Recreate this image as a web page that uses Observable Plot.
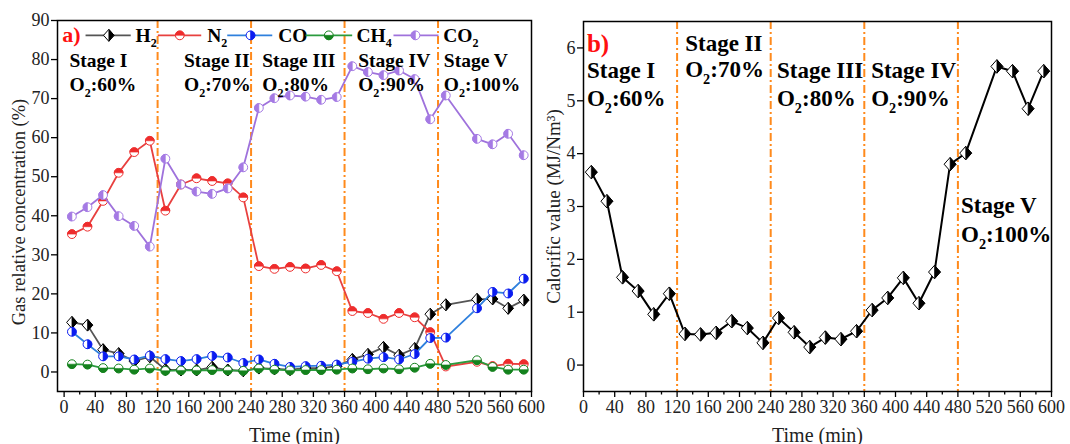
<!DOCTYPE html>
<html><head><meta charset="utf-8">
<script src="https://cdn.jsdelivr.net/npm/d3@7"></script>
<script src="https://cdn.jsdelivr.net/npm/@observablehq/plot@0.6"></script>
<style>
html,body{margin:0;padding:0;background:#fff;}
#wrap{display:flex;width:1070px;height:444px;overflow:hidden;background:#fff;}
#wrap svg{overflow:visible;}
</style></head><body><div id="wrap"></div>
<script>
// ---------------- data ----------------
const times = [10,30,50,70,90,110,130,150,170,190,210,230,250,270,290,310,330,350,370,390,410,430,450,470,490,530,550,570,590];
const h2  = [12.7,12.0,5.7,4.7,2.8,3.9,0.6,0.5,0.5,1.2,0.5,0.3,1.0,0.8,0.6,1.0,1.0,1.5,3.2,4.5,6.3,4.3,6.0,14.8,17.2,18.6,18.7,16.3,18.4];
const n2  = [35.3,37.2,43.8,51.0,56.3,59.2,41.3,48.0,49.6,48.9,48.3,44.7,27.1,26.4,26.9,26.5,27.4,25.8,15.6,15.1,13.6,15.1,14.0,10.2,1.4,2.6,1.5,2.1,2.0];
const co  = [10.3,7.1,4.0,4.0,3.2,4.2,3.3,2.8,3.3,4.1,3.7,2.3,3.2,2.1,1.3,1.5,1.6,1.9,2.6,3.4,3.8,3.2,4.6,8.7,8.8,16.3,20.5,20.1,23.9];
const ch4 = [2.0,1.9,1.0,0.9,0.6,0.9,0.3,0.4,0.4,0.5,0.4,0.3,0.9,0.6,0.4,0.5,0.5,0.6,0.9,0.7,0.9,0.7,1.1,2.1,1.8,3.0,1.3,0.6,0.6];
const co2 = [39.8,42.2,45.3,39.9,37.4,32.1,54.6,48.0,46.2,45.6,47.0,52.4,67.6,70.1,70.8,70.5,69.7,70.4,78.3,76.8,76.0,77.2,75.0,64.7,70.8,59.7,58.3,61.0,55.5];
const calorific = [3.65,3.10,1.66,1.40,0.96,1.35,0.59,0.58,0.61,0.83,0.70,0.42,0.89,0.62,0.34,0.52,0.49,0.64,1.04,1.27,1.65,1.17,1.76,3.80,4.01,5.65,5.56,4.85,5.56];

const gasNames = ["H₂","N₂","CO","CH₄","CO₂"];
const stageBounds = [120,240,360,480];
const stageNames = ["Stage I","Stage II","Stage III","Stage IV","Stage V"];
const o2Labels = ["O₂:60%","O₂:70%","O₂:80%","O₂:90%","O₂:100%"];
const xTicks = [0,40,80,120,160,200,240,280,320,360,400,440,480,520,560,600];
const xMinor = [20,60,100,140,180,220,260,300,340,380,420,460,500,540,580];
const yTicksA = [0,10,20,30,40,50,60,70,80,90];
const yTicksB = [0,1,2,3,4,5,6];

// ---------------- styles ----------------
const FONT = "'Liberation Serif','Times New Roman',serif";
const ORANGE = "#ff8a1c";
const DASH = "8,3,2,3";

// custom half-filled symbols
const circ = {draw(c, s){const r=Math.sqrt(s/Math.PI); c.moveTo(r,0); c.arc(0,0,r,0,2*Math.PI); c.closePath();}};
const halfArc = (a0,a1) => ({draw(c, s){const r=Math.sqrt(s/Math.PI); c.moveTo(0,0); c.lineTo(r*Math.cos(a0), r*Math.sin(a0)); c.arc(0,0,r,a0,a1); c.closePath();}});
const topHalf = halfArc(Math.PI, 2*Math.PI);
const bottomHalf = halfArc(0, Math.PI);
const rightHalf = halfArc(-Math.PI/2, Math.PI/2);
const leftHalf = halfArc(Math.PI/2, 3*Math.PI/2);
const diamond = {draw(c, s){const r=Math.sqrt(s/Math.PI); const h=r*1.3, w=r*1.15; c.moveTo(0,-h); c.lineTo(w,0); c.lineTo(0,h); c.lineTo(-w,0); c.closePath();}};
const diamondRight = {draw(c, s){const r=Math.sqrt(s/Math.PI); const h=r*1.3, w=r*1.15; c.moveTo(0,-h); c.lineTo(w,0); c.lineTo(0,h); c.closePath();}};

const series = [
  {name: gasNames[0], vals: h2,  line: "#555555", mark: "#000000", full: diamond, half: diamondRight, r: 4.6},
  {name: gasNames[1], vals: n2,  line: "#e8403f", mark: "#ee2c2c", full: circ, half: topHalf, r: 4.4},
  {name: gasNames[2], vals: co,  line: "#2f80dd", mark: "#0a1cf0", full: circ, half: rightHalf, r: 4.4},
  {name: gasNames[3], vals: ch4, line: "#2b9b3e", mark: "#14821d", full: circ, half: bottomHalf, r: 4.4},
  {name: gasNames[4], vals: co2, line: "#9f72dc", mark: "#a57ae4", full: circ, half: leftHalf, r: 4.4}
];

function seriesMarks(data, s, lw){
  return [
    Plot.line(data, {x: "t", y: "v", stroke: s.line, strokeWidth: lw}),
    Plot.dot(data, {x: "t", y: "v", r: s.r, symbol: s.full, fill: "white", stroke: s.mark, strokeWidth: 1}),
    Plot.dot(data, {x: "t", y: "v", r: s.r, symbol: s.half, fill: s.mark, stroke: s.mark, strokeWidth: 0.6})
  ];
}
function axisMarks(yTicks){
  return [
    Plot.axisX(xTicks, {tickSize: 6, tickPadding: 3, tickFormat: d => String(d), label: null, stroke: "#000", strokeWidth: 1.3, fill: "#222", fontSize: 18}),
    Plot.axisX(xMinor, {tickSize: 3.5, tickFormat: () => "", label: null, stroke: "#000", strokeWidth: 1.3}),
    Plot.axisY(yTicks, {tickSize: 6, tickPadding: 2, tickFormat: d => String(d), label: null, stroke: "#000", strokeWidth: 1.3, fill: "#222", fontSize: 18})
  ];
}

// ---------------- left panel ----------------
const leftMarks = [];
leftMarks.push(Plot.ruleX(stageBounds, {stroke: ORANGE, strokeWidth: 2, strokeDasharray: DASH}));
for (const s of series){
  const data = times.map((t,i)=>({t, v: s.vals[i]}));
  leftMarks.push(...seriesMarks(data, s, 1.8));
}
// legend (layout in minutes / value units)
const legendY = 86.2;
const legendLayout = [[27.5,85.5,57.4,91.6],[120.3,176,148.5,183.7],[209.4,267.2,239.3,274.8],[309.9,369.8,339.8,375.3],[422.8,480.6,451,486.6]];
series.forEach((s,i)=>{
  const [x1,x2,xs,xt] = legendLayout[i];
  leftMarks.push(Plot.link([0], {x1: ()=>x1, x2: ()=>x2, y1: ()=>legendY, y2: ()=>legendY, stroke: s.line, strokeWidth: 1.8}));
  leftMarks.push(Plot.dot([0], {x: ()=>xs, y: ()=>legendY, r: s.r, symbol: s.full, fill: "white", stroke: s.mark, strokeWidth: 1}));
  leftMarks.push(Plot.dot([0], {x: ()=>xs, y: ()=>legendY, r: s.r, symbol: s.half, fill: s.mark, stroke: s.mark, strokeWidth: 0.6}));
  leftMarks.push(Plot.text([s.name], {x: ()=>xt, y: ()=>legendY, text: d=>d, textAnchor: "start", lineAnchor: "middle", fontSize: 19.5, fontWeight: "bold", fill: "#000"}));
});
leftMarks.push(Plot.text(["a)"], {x: ()=>-2.4, y: ()=>legendY, text: d=>d, textAnchor: "start", lineAnchor: "middle", fontSize: 22, fontWeight: "bold", fill: "#ff1010"}));
const leftStageT = [6.9, 153.9, 254.3, 377.5, 487.4];
leftMarks.push(Plot.text(stageNames, {x: (d,i)=>leftStageT[i], frameAnchor: "top", dy: 46.5, text: d=>d, textAnchor: "start", lineAnchor: "bottom", fontSize: 19.5, fontWeight: "bold", fill: "#000"}));
leftMarks.push(Plot.text(o2Labels, {x: (d,i)=>leftStageT[i], frameAnchor: "top", dy: 70.5, text: d=>d, textAnchor: "start", lineAnchor: "bottom", fontSize: 19.5, fontWeight: "bold", fill: "#000"}));
leftMarks.push(
  ...axisMarks(yTicksA),
  Plot.text(["Time (min)"], {frameAnchor: "bottom", dy: 50, text: d=>d, lineAnchor: "bottom", fontSize: 20, fill: "#222"}),
  Plot.text(["Gas relative concentration (%)"], {frameAnchor: "left", dx: -38, dy: 6, rotate: -90, text: d=>d, textAnchor: "middle", lineAnchor: "middle", fontSize: 18.5, fill: "#222"}),
  Plot.frame({stroke: "#000", strokeWidth: 1.5})
);

const left = Plot.plot({
  width: 540, height: 444,
  marginLeft: 57, marginRight: 9, marginTop: 20, marginBottom: 53,
  x: {domain: [-8.5, 600]},
  y: {domain: [-5, 90]},
  style: {fontFamily: FONT, fontSize: "18px", color: "#222", background: "transparent", overflow: "visible"},
  marks: leftMarks
});

// ---------------- right panel ----------------
const hs = {line: "#000", mark: "#000", full: diamond, half: diamondRight, r: 5.2};
const calData = times.map((t,i)=>({t, v: calorific[i]}));
const rightStageT = [4.4, 130.4, 248, 368.8, 484];
const rightDy1 = [56.3, 29, 56.3, 56.3, 191.3];
const rightDy2 = [84.7, 55.7, 84.7, 84.7, 220.7];
const rightMarks = [
  Plot.ruleX(stageBounds, {stroke: ORANGE, strokeWidth: 2, strokeDasharray: DASH}),
  ...seriesMarks(calData, hs, 2),
  Plot.text(["b)"], {frameAnchor: "top-left", dx: 3.4, dy: 22.3, text: d=>d, textAnchor: "start", lineAnchor: "middle", fontSize: 25, fontWeight: "bold", fill: "#ff1010"})
];
stageNames.forEach((name, i) => {
  rightMarks.push(Plot.text([name], {x: ()=>rightStageT[i], frameAnchor: "top", dy: rightDy1[i], text: d=>d, textAnchor: "start", lineAnchor: "bottom", fontSize: 23, fontWeight: "bold", fill: "#000"}));
  rightMarks.push(Plot.text([o2Labels[i]], {x: ()=>rightStageT[i], frameAnchor: "top", dy: rightDy2[i], text: d=>d, textAnchor: "start", lineAnchor: "bottom", fontSize: 23, fontWeight: "bold", fill: "#000"}));
});
rightMarks.push(
  ...axisMarks(yTicksB),
  Plot.text(["Time (min)"], {frameAnchor: "bottom", dy: 50, text: d=>d, lineAnchor: "bottom", fontSize: 20, fill: "#222"}),
  Plot.text(["Calorific value (MJ/Nm³)"], {frameAnchor: "left", dx: -30, dy: 0, rotate: -90, text: d=>d, textAnchor: "middle", lineAnchor: "middle", fontSize: 19, fill: "#222"}),
  Plot.frame({stroke: "#000", strokeWidth: 1.5})
);
const right = Plot.plot({
  width: 530, height: 444,
  marginLeft: 43, marginRight: 19, marginTop: 21, marginBottom: 53,
  x: {domain: [0, 600]},
  y: {domain: [-0.5, 6.5]},
  style: {fontFamily: FONT, fontSize: "18px", color: "#222", background: "transparent", overflow: "visible"},
  marks: rightMarks
});

const wrap = document.getElementById("wrap");
wrap.append(left, right);

// subscripts
function subscriptify(svg){
  const map = {"₀":"0","₁":"1","₂":"2","₃":"3","₄":"4","₅":"5","₆":"6","₇":"7","₈":"8","₉":"9"};
  svg.querySelectorAll("text").forEach(t => {
    const s = t.textContent;
    if (!/[₀-₉]/.test(s) || t.querySelector("tspan")) return;
    while (t.firstChild) t.removeChild(t.firstChild);
    let prevSub = false;
    for (const ch of s){
      const isSub = ch in map;
      const sp = document.createElementNS("http://www.w3.org/2000/svg","tspan");
      if (isSub){
        sp.textContent = map[ch];
        sp.setAttribute("style","font-size:62%");
        sp.setAttribute("dy","0.48em");
      } else {
        sp.textContent = ch;
        if (prevSub) sp.setAttribute("dy","-0.2976em");
      }
      prevSub = isSub;
      t.appendChild(sp);
    }
  });
}
subscriptify(left); subscriptify(right);
</script>
</body></html>
